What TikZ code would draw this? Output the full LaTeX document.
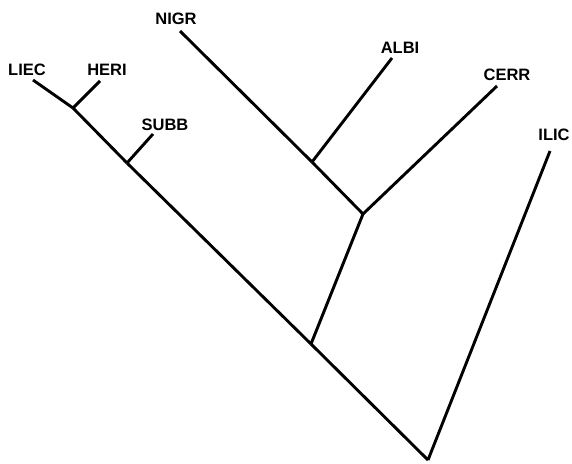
\documentclass[tikz,border=0pt]{standalone}
\usepackage{fontspec}
\setmainfont{Liberation Sans}
\begin{document}
\begin{tikzpicture}[x=1pt,y=-1pt,
  branch/.style={line width=2.9pt},
  taxon/.style={inner sep=0pt,font=\fontsize{16.5}{17}\selectfont\bfseries}]
\useasboundingbox (0,0) rectangle (572,463);
% labels
\node[taxon] (liec) at (27,69.5) {LIEC};
\node[taxon] (heri) at (107,69.5) {HERI};
\node[taxon] (subb) at (165,124.5) {SUBB};
\node[taxon] (nigr) at (176,18.5) {NIGR};
\node[taxon] (albi) at (400,47.5) {ALBI};
\node[taxon] (cerr) at (507,75) {CERR};
\node[taxon] (ilic) at (554,135) {ILIC};
% tips
\coordinate (tliec) at (33,80);
\coordinate (theri) at (100,81);
\coordinate (tsubb) at (153,134);
\coordinate (tnigr) at (180,31);
\coordinate (talbi) at (392,58);
\coordinate (tcerr) at (497,86);
\coordinate (tilic) at (550,151);
% internal nodes
\coordinate (j1) at (73,108);
\coordinate (j2) at (127,163);
\coordinate (j3) at (311,344);
\coordinate (j4) at (312,162);
\coordinate (j5) at (363,214);
\coordinate (root) at (428,460);
% branches
\draw[branch] (tliec) -- (j1);
\draw[branch] (theri) -- (j1);
\draw[branch] (j1) -- (j2);
\draw[branch] (tsubb) -- (j2);
\draw[branch] (j2) -- (j3);
\draw[branch] (tnigr) -- (j4);
\draw[branch] (talbi) -- (j4);
\draw[branch] (j4) -- (j5);
\draw[branch] (tcerr) -- (j5);
\draw[branch] (j5) -- (j3);
\draw[branch] (j3) -- (root);
\draw[branch] (tilic) -- (root);
\end{tikzpicture}
\end{document}
